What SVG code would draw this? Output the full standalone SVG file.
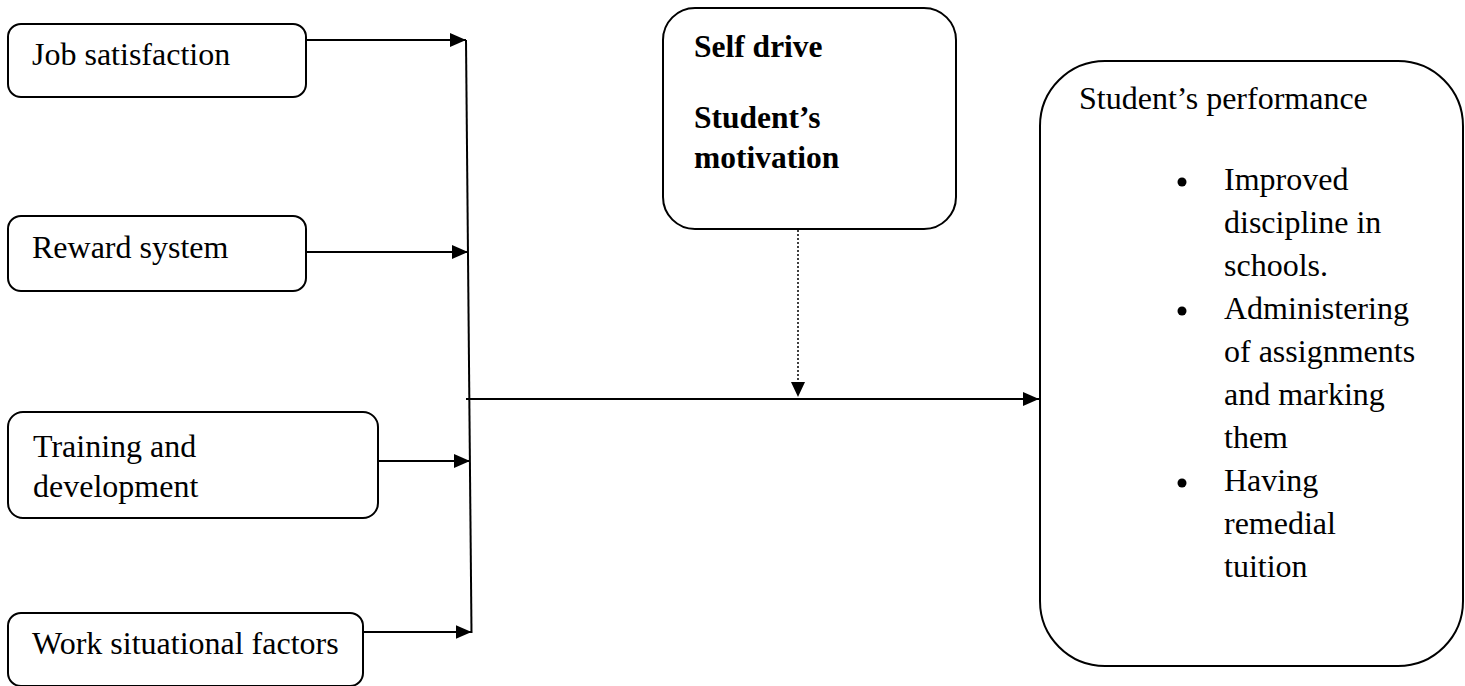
<svg xmlns="http://www.w3.org/2000/svg" width="1465" height="686" viewBox="0 0 1465 686">
<style>
.box{fill:#fff;stroke:#000;stroke-width:2}
.t{font-family:"Liberation Serif","Times New Roman",serif;font-size:32px;fill:#000}
.b{font-weight:bold;font-size:31.5px}
.ln{stroke:#000;stroke-width:2;fill:none}
.dot{stroke:#000;stroke-width:1.5;fill:none;stroke-dasharray:2 2}
</style>
<defs>
<marker id="ah" markerWidth="16" markerHeight="14" refX="16" refY="7" orient="auto" markerUnits="userSpaceOnUse">
<path d="M0,0 L16,7 L0,14 Z" fill="#000"/>
</marker>
</defs>
<rect width="1465" height="686" fill="#fff"/>
<g id="connectors">
<line class="ln" x1="306" y1="40" x2="466" y2="40" marker-end="url(#ah)"/>
<line class="ln" x1="306" y1="252" x2="468" y2="252" marker-end="url(#ah)"/>
<line class="ln" x1="378" y1="461" x2="470" y2="461" marker-end="url(#ah)"/>
<line class="ln" x1="363" y1="632" x2="471.5" y2="632" marker-end="url(#ah)"/>
<line class="ln" x1="466" y1="40" x2="471.5" y2="633"/>
<line class="ln" x1="466" y1="399" x2="1039" y2="399" marker-end="url(#ah)"/>
<line class="dot" x1="798" y1="230" x2="798" y2="382"/>
<path d="M791,382 L805,382 L798,397 Z" fill="#000"/>
</g>
<g id="job">
<rect class="box" x="8" y="24" width="298" height="73" rx="13"/>
<text class="t" x="32" y="65">Job satisfaction</text>
</g>
<g id="reward">
<rect class="box" x="8" y="216" width="298" height="75" rx="13"/>
<text class="t" x="32" y="258">Reward system</text>
</g>
<g id="training">
<rect class="box" x="8" y="412" width="370" height="106" rx="15"/>
<text class="t" x="33" y="457">Training and</text>
<text class="t" x="33" y="497">development</text>
</g>
<g id="work">
<rect class="box" x="8" y="613" width="355" height="73" rx="13"/>
<text class="t" x="32" y="654">Work situational factors</text>
</g>
<g id="selfdrive">
<rect class="box" x="663" y="8" width="293" height="221" rx="32"/>
<text class="t b" x="694" y="57">Self drive</text>
<text class="t b" x="694" y="128">Student’s</text>
<text class="t b" x="694" y="168">motivation</text>
</g>
<g id="performance">
<rect class="box" x="1040" y="61" width="423" height="605" rx="65"/>
<text class="t" x="1079" y="109">Student’s performance</text>
<circle cx="1182" cy="182" r="4.5" fill="#000"/>
<circle cx="1182" cy="311" r="4.5" fill="#000"/>
<circle cx="1182" cy="483" r="4.5" fill="#000"/>
<text class="t" x="1224" y="190">Improved</text>
<text class="t" x="1224" y="233">discipline in</text>
<text class="t" x="1224" y="276">schools.</text>
<text class="t" x="1224" y="319">Administering</text>
<text class="t" x="1224" y="362">of assignments</text>
<text class="t" x="1224" y="405">and marking</text>
<text class="t" x="1224" y="448">them</text>
<text class="t" x="1224" y="491">Having</text>
<text class="t" x="1224" y="534">remedial</text>
<text class="t" x="1224" y="577">tuition</text>
</g>
</svg>
